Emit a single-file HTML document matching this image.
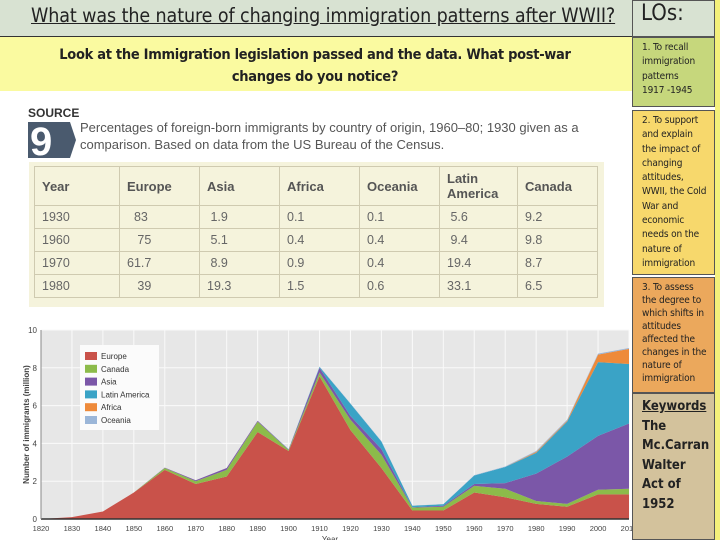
<!DOCTYPE html>
<html><head><meta charset="utf-8"><style>
body{margin:0;width:720px;height:540px;position:relative;overflow:hidden;background:#fff;font-family:"Liberation Sans",sans-serif}
.abs{position:absolute}
table{border-collapse:collapse;font-size:12.5px;color:#666}
td{border:1px solid #cfcab0;padding:0 0 0 7px;height:22px}
tr.h td{font-weight:bold;color:#555;height:38px;font-size:13px}
.lo{position:absolute;left:632px;width:83px;border:1px solid #555;box-sizing:border-box;padding:3px 5px 3px 9px;font-family:"DejaVu Sans Condensed","Liberation Sans",sans-serif;font-size:10px;letter-spacing:-0.15px;line-height:14.3px;color:#222}
</style></head><body>
<div class="abs" style="left:0;top:0;width:632px;height:36px;background:#d8e2d2;border-bottom:1px solid #333"></div>
<div class="abs" style="left:31px;top:4px;font-size:19.5px;letter-spacing:-0.1px;color:#222;text-decoration:underline;font-family:'DejaVu Sans Condensed','Liberation Sans',sans-serif">What was the nature of changing immigration patterns after WWII?</div>
<div class="abs" style="left:0;top:37px;width:632px;height:54px;background:#fafaa0"></div>
<div class="abs" style="left:50px;top:44px;width:530px;text-align:center;font-weight:bold;font-size:14.5px;letter-spacing:-0.3px;line-height:22px;color:#222;font-family:'DejaVu Sans Condensed','Liberation Sans',sans-serif">Look at the Immigration legislation passed and the data. What post-war changes do you notice?</div>

<div class="abs" style="left:28px;top:106px;font-weight:bold;font-size:12px;color:#333">SOURCE</div>
<svg class="abs" style="left:26px;top:120px" width="52" height="40"><polygon points="2,2 44,2 50,20 44,38 2,38" fill="#4a5a6e"/><text x="4" y="35" font-size="40" font-weight="bold" fill="#fff" font-family="Liberation Sans">9</text></svg>
<div class="abs" style="left:80px;top:119px;font-size:13px;line-height:17px;color:#555">Percentages of foreign-born immigrants by country of origin, 1960–80; 1930 given as a<br>comparison. Based on data from the US Bureau of the Census.</div>
<div class="abs" style="left:29px;top:162px;width:575px;height:145px;background:#f5f3dc"></div>
<table class="abs" style="left:34px;top:166px;width:564px">
<tr class="h"><td style="width:77px">Year</td><td style="width:72px">Europe</td><td style="width:72px">Asia</td><td style="width:72px">Africa</td><td style="width:72px">Oceania</td><td style="width:70px;line-height:15px">Latin<br>America</td><td>Canada</td></tr>
<tr><td>1930</td><td>&nbsp;&nbsp;83</td><td>&nbsp;1.9</td><td>0.1</td><td>0.1</td><td>&nbsp;5.6</td><td>9.2</td></tr>
<tr><td>1960</td><td>&nbsp;&nbsp;&nbsp;75</td><td>&nbsp;5.1</td><td>0.4</td><td>0.4</td><td>&nbsp;9.4</td><td>9.8</td></tr>
<tr><td>1970</td><td>61.7</td><td>&nbsp;8.9</td><td>0.9</td><td>0.4</td><td>19.4</td><td>8.7</td></tr>
<tr><td>1980</td><td>&nbsp;&nbsp;&nbsp;39</td><td>19.3</td><td>1.5</td><td>0.6</td><td>33.1</td><td>6.5</td></tr>
</table>

<svg id="chart" class="abs" style="left:0;top:320px" width="632" height="220"></svg>

<div class="lo" style="top:0;height:37px;background:#d8e2d2;font-size:22px;letter-spacing:0;padding:6px 8px">LOs:</div>
<div class="lo" style="top:37px;height:70px;background:#c6d77c;padding-right:14px">1. To recall immigration patterns 1917 -1945</div>
<div class="lo" style="top:110px;height:165px;background:#f7d86c">2. To support and explain the impact of changing attitudes, WWII, the Cold War and economic needs on the nature of immigration</div>
<div class="lo" style="top:277px;height:116px;background:#eba85c;line-height:13px">3. To assess the degree to which shifts in attitudes affected the changes in the nature of immigration</div>
<div class="lo" style="top:393px;height:147px;background:#d3c29c;font-size:13px;letter-spacing:0;padding-right:3px;line-height:19.5px;font-weight:bold"><u>Keywords</u><br>The Mc.Carran Walter Act of 1952</div>
<div class="abs" style="left:715px;top:0;width:5px;height:540px;background:#f4f07a"></div>

<script>
const years=[1820,1830,1840,1850,1860,1870,1880,1890,1900,1910,1920,1930,1940,1950,1960,1970,1980,1990,2000,2010];
const europe=[0,0.1,0.4,1.4,2.6,1.85,2.25,4.6,3.6,7.55,4.7,2.7,0.45,0.45,1.4,1.15,0.8,0.65,1.3,1.3];
const canada=[0,0,0,0,0.1,0.15,0.35,0.55,0.05,0.2,0.55,0.7,0.15,0.2,0.35,0.45,0.15,0.15,0.25,0.3];
const asia=[0,0,0,0,0.02,0.05,0.1,0.05,0.03,0.25,0.2,0.3,0.02,0.05,0.1,0.3,1.45,2.5,2.85,3.45];
const latam=[0,0,0,0,0,0,0,0,0.01,0.05,0.65,0.4,0.08,0.08,0.45,0.85,1.1,1.85,3.9,3.15];
const africa=[0,0,0,0,0,0,0,0,0,0,0,0,0,0,0,0,0.05,0.05,0.4,0.8];
const oceania=[0,0,0,0,0,0,0,0,0,0.02,0.02,0.02,0.01,0.01,0.02,0.03,0.05,0.05,0.05,0.05];
const seriesNames=["Europe","Canada","Asia","Latin America","Africa","Oceania"];
const yTicks=[0,2,4,6,8,10];
const NS="http://www.w3.org/2000/svg";
const svg=document.getElementById('chart');
const colors=["#c9524a","#8cbb4a","#7b57a8","#3aa3c6","#ee8a3a","#9bb6d8"];
const L=41,R=629,T=10,B=199;
const x=v=>L+(v-1820)/(2010-1820)*(R-L);
const y=v=>B-v/10*(B-T);
function el(t,a){const e=document.createElementNS(NS,t);for(const k in a)e.setAttribute(k,a[k]);svg.appendChild(e);return e;}
const bg=el('rect',{x:L,y:T,width:R-L,height:B-T,fill:'#e7e7e7'});


years.forEach(v=>{el('line',{x1:x(v),x2:x(v),y1:T,y2:B,stroke:'#fafafa','stroke-width':1});});
yTicks.forEach(v=>{el('line',{x1:L,x2:R,y1:y(v),y2:y(v),stroke:'#fafafa','stroke-width':1});
 const t=el('text',{x:L-4,y:y(v)+3,'font-size':8,'text-anchor':'end',fill:'#444'});t.textContent=v;
 
 });
const data=[europe,canada,asia,latam,africa,oceania];
let base=years.map(()=>0);
data.forEach((s,i)=>{const top=base.map((b,j)=>b+s[j]);
 let d='M'+years.map((v,j)=>x(v)+','+y(top[j])).join(' L');
 for(let j=years.length-1;j>=0;j--)d+=' L'+x(years[j])+','+y(base[j]);
 const p=el('path',{d:d+'Z',fill:colors[i]});
 
 
 base=top;});
el('line',{x1:L,x2:R,y1:B,y2:B,stroke:'#333','stroke-width':1.5});
el('line',{x1:L,x2:L,y1:T,y2:B,stroke:'#888','stroke-width':1});
years.forEach(v=>{const t=el('text',{x:x(v),y:B+12,'font-size':7.5,'text-anchor':'middle',fill:'#444'});t.textContent=v;
 
 });
const yt=el('text',{x:0,y:0,'font-size':8,'font-weight':'bold',fill:'#444','text-anchor':'middle',transform:'translate(29,'+((T+B)/2)+') rotate(-90)'});
yt.textContent='Number of immigrants (million)';


const xt=el('text',{x:330,y:222,'font-size':8,fill:'#444','text-anchor':'middle'});xt.textContent='Year';


const lg=el('rect',{x:80,y:25,width:79,height:85,fill:'#fbfbfb'});


seriesNames.forEach((n,i)=>{const r=el('rect',{x:85,y:32+i*12.8,width:12,height:8,fill:colors[i]});
 
 
 const t=el('text',{x:101,y:39+i*12.8,'font-size':8,fill:'#333'});t.textContent=n;
 
 });
</script>
</body></html>
